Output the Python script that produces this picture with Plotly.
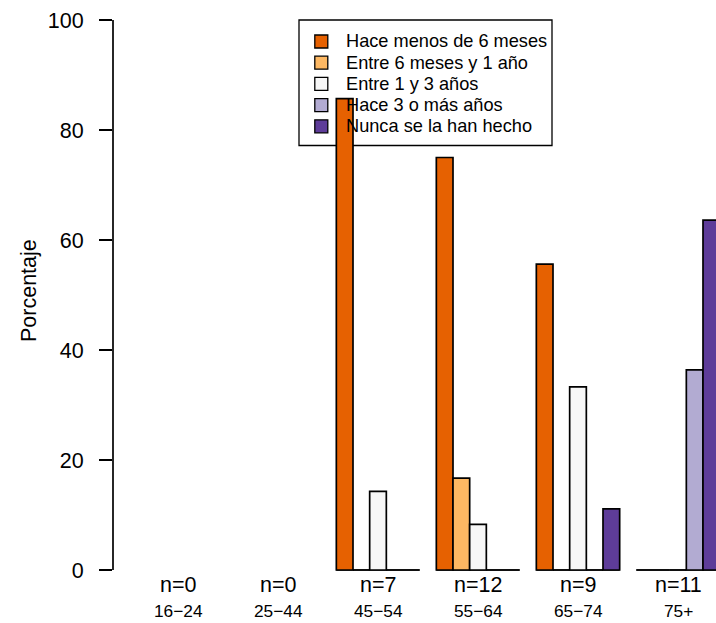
import plotly.graph_objects as go

categories = ["16\u221224", "25\u221244", "45\u221254", "55\u221264", "65\u221274", "75+"]
n_labels = ["n=0", "n=0", "n=7", "n=12", "n=9", "n=11"]
n_values = [0, 0, 7, 12, 9, 11]
series_names = ["Hace menos de 6 meses", "Entre 6 meses y 1 a\u00f1o", "Entre 1 y 3 a\u00f1os",
                "Hace 3 o m\u00e1s a\u00f1os", "Nunca se la han hecho"]
series_colors = ["#E66101", "#FDB863", "#F7F7F7", "#B2ABD2", "#5E3C99"]

menos6 = [None, None, 85.7, 75.0, 55.6, 0.0]
entre6_1 = [None, None, 0.0, 16.7, 0.0, 0.0]
entre1_3 = [None, None, 14.3, 8.3, 33.3, 0.0]
mas3 = [None, None, 0.0, 0.0, 0.0, 36.4]
nunca = [None, None, 0.0, 0.0, 11.1, 63.6]
series_values = [menos6, entre6_1, entre1_3, mas3, nunca]

yticks = [0, 20, 40, 60, 80, 100]

FONT = "Liberation Sans, Arial, sans-serif"
LW = 1.7
W, H = 716, 623
ML, MR, MT, MB = 113, 0, 0, 31
PW, PH = W - ML - MR, H - MT - MB


def px_x(px):
    return (px - ML) / PW


def px_y(py):
    return 1 - (py - MT) / PH


nser = len(series_names)
gstep = nser + 1  # R barplot beside=TRUE, space=c(0,1)

fig = go.Figure()
for j, (name, col, vals) in enumerate(zip(series_names, series_colors, series_values)):
    xs = [gstep * i + 1 + j + 0.5 for i in range(len(categories))]
    fig.add_trace(go.Bar(
        x=xs, y=vals, width=1, name=name, showlegend=False,
        marker=dict(color=col, line=dict(color="black", width=LW)),
        hoverinfo="skip",
    ))

shapes = []
# baseline drawn by zero-height bars in groups with data
for i, n in enumerate(n_values):
    if n > 0:
        shapes.append(dict(type="line", xref="x", yref="y",
                           x0=gstep * i + 1, x1=gstep * i + 1 + nser, y0=0, y1=0,
                           line=dict(color="black", width=LW), layer="below"))
# y axis line from first to last tick (R style)
shapes.append(dict(type="line", xref="paper", yref="y", x0=0, x1=0,
                   y0=yticks[0], y1=yticks[-1], line=dict(color="black", width=LW)))

annotations = []
for i, (cat, nl) in enumerate(zip(categories, n_labels)):
    cx = gstep * i + 1 + nser / 2
    annotations.append(dict(x=cx, y=0, xref="x", yref="y", text=nl, showarrow=False,
                            xanchor="center", yanchor="middle",
                            yshift=-15, font=dict(family=FONT, size=21.5, color="black")))
    annotations.append(dict(x=cx, y=0, xref="x", yref="y", text=cat, showarrow=False,
                            xanchor="center", yanchor="middle",
                            yshift=-41, font=dict(family=FONT, size=17.3, color="black")))
annotations.append(dict(x=px_x(29), y=px_y(291), xref="paper", yref="paper",
                        xanchor="center", yanchor="middle",
                        text="Porcentaje", textangle=-90, showarrow=False,
                        font=dict(family=FONT, size=21.5, color="black")))

# legend (R style box)
box_l, box_r, box_t, box_b = 299, 552, 20, 145.5
shapes.append(dict(type="rect", xref="paper", yref="paper",
                   x0=px_x(box_l), x1=px_x(box_r), y0=px_y(box_b), y1=px_y(box_t),
                   line=dict(color="black", width=1.3), fillcolor="rgba(0,0,0,0)",
                   layer="below"))
row0, rowstep, key_cx, key_half, text_x = 41.5, 21.2, 321.3, 6.5, 344
for k, (name, col) in enumerate(zip(series_names, series_colors)):
    cy = row0 + k * rowstep
    shapes.append(dict(type="rect", xref="paper", yref="paper",
                       x0=px_x(key_cx - key_half), x1=px_x(key_cx + key_half),
                       y0=px_y(cy + key_half), y1=px_y(cy - key_half),
                       line=dict(color="black", width=1.3), fillcolor=col, layer="above"))
    annotations.append(dict(x=px_x(text_x), y=px_y(cy), xref="paper", yref="paper",
                            xanchor="left", yanchor="middle", text=name, showarrow=False,
                            font=dict(family=FONT, size=18.2, color="black")))

fig.update_layout(
    width=W, height=H,
    margin=dict(l=ML, r=MR, t=MT, b=MB),
    paper_bgcolor="white", plot_bgcolor="white",
    barmode="overlay",
    showlegend=False,
    xaxis=dict(range=[-0.4, -0.4 + PW / (100 / 6)], showticklabels=False, ticks="",
               showgrid=False, zeroline=False, showline=False),
    yaxis=dict(range=[-4, -4 + PH / 5.5], tickvals=yticks, ticks="outside", ticklen=13,
               tickwidth=LW, tickcolor="black", showgrid=False, zeroline=False,
               showline=False, ticklabelstandoff=11,
               tickfont=dict(family=FONT, size=21.5, color="black")),
    shapes=shapes,
    annotations=annotations,
    font=dict(family=FONT),
)

fig.write_html("out.html", config={"displayModeBar": False},
               post_script="document.body.style.margin='0';document.body.style.overflow='hidden';")
